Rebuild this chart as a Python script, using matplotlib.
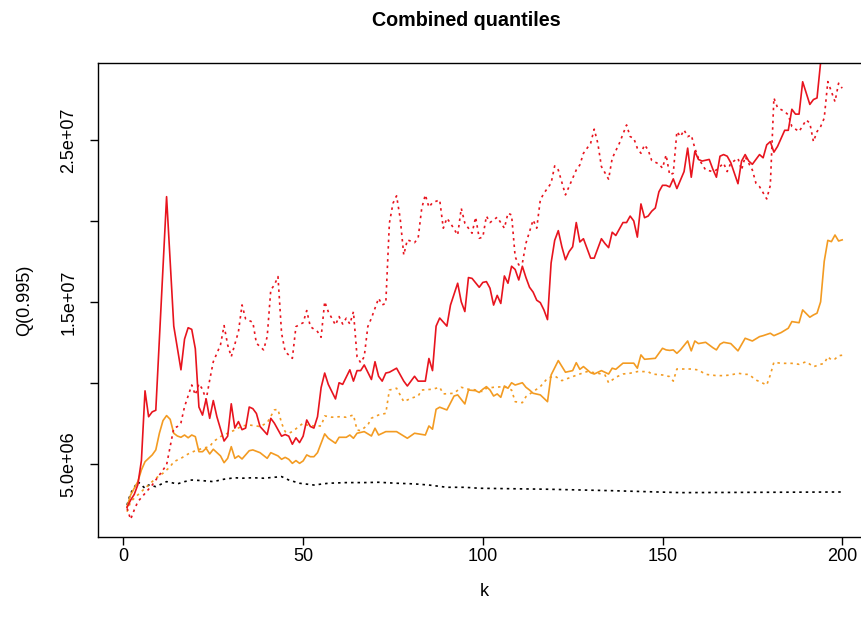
import matplotlib
matplotlib.use("Agg")
import matplotlib.pyplot as plt
from matplotlib.ticker import FixedLocator, FuncFormatter

plt.rcParams['font.family'] = ['Liberation Sans', 'DejaVu Sans']

# Q(0.995) values in units of 1e6
red_k = [1, 2, 3, 4, 5, 6, 7, 8, 9, 12, 14, 16, 17, 18, 19, 20, 21, 22, 23, 24, 25, 26, 28, 29, 30,
         31, 32, 33, 34, 35, 36, 37, 38, 40, 41, 42, 44, 45, 46, 47, 48, 49, 50, 51, 52, 53, 54, 55,
         56, 57, 59, 60, 61, 63, 64, 65, 66, 67, 69, 70, 71, 72, 73, 74, 76, 78, 79, 80, 81, 82, 84,
         85, 86, 87, 88, 90, 91, 93, 94, 95, 96, 97, 99, 100, 101, 102, 103, 104, 105, 106, 107, 108,
         109, 110, 111, 112, 113, 114, 115, 116, 117, 118, 119, 120, 121, 122, 123, 124, 125, 126,
         127, 128, 130, 131, 133, 134, 135, 136, 137, 139, 140, 141, 142, 143, 144, 145, 146, 147,
         148, 149, 150, 151, 152, 153, 154, 156, 157, 158, 159, 160, 161, 163, 164, 165, 166, 167,
         168, 169, 171, 172, 173, 174, 175, 177, 178, 179, 180, 181, 182, 184, 185, 186, 187, 188,
         189, 191, 192, 193, 194, 195, 200]
red_v = [2.3, 2.75, 3.1, 3.7, 5.2, 9.5, 7.9, 8.2, 8.3, 21.5, 13.5, 10.8, 12.7, 13.4, 13.3, 12.1, 8.5,
         8.0, 9.0, 7.8, 8.9, 7.9, 6.4, 6.7, 8.7, 7.2, 7.6, 7.1, 7.2, 8.5, 8.4, 8.1, 7.3, 6.8, 7.8,
         7.5, 6.7, 6.8, 6.7, 6.2, 6.6, 6.3, 6.7, 7.7, 7.3, 7.2, 7.9, 9.7, 10.6, 9.9, 9.0, 10.0, 9.9,
         10.8, 10.1, 10.75, 10.75, 11.1, 10.2, 11.3, 10.4, 10.1, 10.6, 10.65, 10.9, 10.1, 9.8, 10.1,
         10.4, 10.1, 10.1, 11.5, 10.75, 13.5, 14.0, 13.5, 14.8, 16.15, 15.0, 14.4, 16.5, 16.45, 15.9,
         16.2, 16.25, 15.84, 14.8, 15.4, 14.9, 16.6, 16.15, 17.2, 17.0, 16.35, 17.2, 16.5, 15.9, 15.6,
         15.1, 14.95, 14.5, 13.9, 17.4, 18.8, 19.4, 18.4, 17.6, 18.1, 18.4, 19.9, 18.7, 18.9, 17.7,
         17.7, 18.9, 18.6, 18.35, 19.3, 19.1, 19.9, 19.9, 20.3, 20.0, 19.0, 21.05, 20.2, 20.3, 20.6,
         20.8, 21.8, 22.2, 22.2, 22.1, 22.6, 22.0, 23.05, 24.5, 22.7, 24.3, 23.8, 23.7, 23.8, 23.2,
         22.7, 24.0, 24.1, 24.0, 23.6, 22.3, 23.7, 24.1, 23.7, 23.5, 24.1, 23.9, 24.7, 24.9, 24.25,
         24.6, 25.6, 25.6, 26.9, 26.6, 26.6, 28.6, 27.2, 27.5, 27.6, 29.8, 31.0, 32.0]

red_dot_k = [1, 2, 3, 4, 6, 8, 10, 12, 13, 14, 15, 16, 17, 19, 20, 21, 22, 23, 24, 25, 27, 28, 29,
             30, 32, 33, 34, 36, 37, 39, 40, 41, 42, 43, 44, 45, 47, 48, 50, 51, 52, 54, 55, 56, 57,
             59, 60, 61, 62, 63, 64, 65, 66, 67, 68, 69, 71, 72, 73, 74, 75, 76, 77, 78, 79, 81, 82,
             83, 84, 85, 86, 88, 89, 90, 91, 93, 94, 95, 97, 98, 99, 100, 101, 102, 104, 106, 107,
             108, 109, 110, 111, 112, 114, 115, 116, 117, 119, 120, 121, 123, 124, 126, 127, 128,
             130, 131, 132, 133, 135, 136, 138, 140, 141, 142, 143, 144, 145, 146, 147, 149, 150,
             151, 152, 153, 154, 155, 156, 157, 158, 159, 160, 162, 164, 165, 167, 168, 169, 171,
             172, 173, 175, 176, 177, 179, 180, 181, 182, 184, 185, 186, 188, 190, 191, 192, 193,
             194, 195, 196, 197, 198, 199, 200]
red_dot_v = [2.24, 1.56, 2.14, 2.65, 3.17, 3.68, 4.3, 4.92, 6.05, 7.19, 7.29, 7.53, 8.52, 9.86, 9.25,
             9.93, 9.6, 8.94, 10.17, 11.3, 12.34, 13.53, 12.34, 11.61, 13.16, 14.81, 13.94, 13.74,
             12.44, 12.03, 12.85, 15.74, 16.04, 16.56, 13.06, 11.92, 11.51, 13.47, 13.71, 14.46,
             13.47, 13.16, 12.81, 15.01, 14.39, 13.57, 14.09, 13.63, 13.99, 13.63, 14.39, 11.61,
             11.24, 11.61, 13.47, 13.99, 15.22, 14.81, 14.91, 19.86, 21.09, 21.55, 20.17, 17.9,
             18.83, 18.66, 18.93, 20.78, 21.61, 20.85, 21.13, 21.3, 19.55, 20.17, 19.86, 19.13,
             20.78, 19.86, 19.24, 20.23, 18.93, 19.0, 20.3, 19.9, 20.23, 19.55, 20.48, 20.37, 17.79,
             17.28, 17.38, 18.62, 20.06, 19.55, 21.3, 21.71, 22.33, 23.4, 23.15, 21.61, 22.12, 23.15,
             23.46, 24.18, 24.8, 25.67, 24.8, 23.36, 22.58, 23.87, 24.8, 25.93, 25.21, 25.11, 24.49,
             24.18, 24.7, 24.39, 23.73, 23.52, 23.26, 24.08, 22.84, 22.95, 25.52, 25.21, 25.62,
             25.21, 25.31, 24.49, 23.87, 23.15, 23.05, 23.15, 23.57, 23.05, 23.57, 23.87, 23.15,
             23.97, 23.15, 22.33, 22.12, 21.36, 22.2, 27.6, 27.0, 26.76, 26.55, 25.83, 25.52, 26.24,
             26.04, 24.9, 25.52, 25.83, 26.35, 28.61, 28.0, 27.37, 28.51, 28.2]

orange_k = [1, 2, 4, 5, 6, 8, 9, 10, 11, 12, 13, 14, 15, 16, 17, 18, 19, 20, 21, 22, 23, 24, 25, 27,
            28, 29, 30, 31, 32, 33, 35, 36, 38, 40, 41, 43, 44, 45, 46, 47, 48, 49, 50, 51, 52, 53,
            54, 56, 57, 59, 60, 62, 63, 64, 65, 67, 69, 70, 71, 73, 76, 79, 81, 84, 85, 86, 87, 88,
            90, 92, 93, 95, 96, 98, 99, 100, 101, 102, 103, 104, 105, 106, 107, 108, 109, 111, 112,
            113, 114, 116, 117, 118, 119, 121, 123, 125, 126, 127, 128, 130, 131, 133, 135, 136,
            137, 139, 142, 143, 144, 145, 148, 150, 151, 152, 153, 154, 155, 157, 158, 159, 160,
            162, 164, 165, 166, 167, 169, 171, 173, 175, 177, 178, 180, 181, 183, 185, 186, 188,
            189, 191, 192, 193, 194, 195, 196, 197, 198, 199, 200]
orange_v = [2.34, 3.07, 3.89, 4.61, 5.12, 5.54, 5.85, 6.88, 7.66, 7.97, 7.74, 6.88, 6.71, 6.63, 6.77,
            6.6, 6.77, 6.67, 5.74, 5.74, 5.95, 5.6, 5.89, 5.48, 5.06, 5.33, 6.05, 5.33, 5.48, 5.29,
            5.8, 5.85, 5.68, 5.33, 5.68, 5.48, 5.27, 5.39, 5.27, 5.02, 5.19, 5.02, 5.17, 5.54, 5.43,
            5.43, 5.68, 6.84, 6.57, 6.26, 6.63, 6.63, 6.77, 6.57, 6.88, 6.98, 6.71, 7.19, 6.77, 6.98,
            6.98, 6.57, 6.88, 6.77, 7.33, 7.13, 8.36, 8.49, 8.32, 9.18, 9.25, 8.69, 9.55, 9.51, 9.4,
            9.6, 9.76, 9.55, 9.18, 9.31, 9.1, 9.8, 9.66, 10.0, 9.86, 10.0, 9.72, 9.55, 9.35, 9.25,
            9.04, 8.83, 10.48, 11.37, 10.65, 10.75, 11.24, 10.83, 11.0, 10.62, 10.54, 10.75, 10.54,
            10.9, 10.83, 11.21, 11.21, 10.9, 11.72, 11.45, 11.51, 12.13, 12.03, 12.0, 12.03, 11.82,
            12.03, 12.58, 11.97, 12.58, 12.42, 12.5, 12.17, 12.03, 12.38, 12.5, 12.42, 11.97, 12.75,
            12.58, 12.85, 12.91, 13.06, 12.91, 13.1, 13.37, 13.78, 13.71, 14.5, 14.05, 14.19, 14.3,
            15.0, 17.5, 18.8, 18.72, 19.13, 18.76, 18.83]

orange_dot_k = [1, 2, 4, 6, 7, 9, 11, 13, 14, 16, 18, 20, 22, 24, 25, 27, 29, 31, 33, 35, 37, 38, 40,
                42, 43, 44, 45, 46, 47, 49, 50, 51, 53, 55, 56, 58, 60, 62, 64, 65, 66, 68, 69, 71,
                73, 74, 76, 78, 80, 82, 83, 86, 88, 89, 92, 94, 96, 97, 100, 101, 103, 106, 108, 109,
                111, 112, 114, 116, 118, 120, 122, 125, 127, 129, 132, 134, 135, 137, 139, 141, 143,
                146, 147, 150, 152, 153, 154, 156, 158, 160, 162, 165, 167, 169, 171, 173, 174, 176,
                177, 179, 180, 181, 183, 186, 188, 190, 192, 194, 195, 196, 197, 198, 199, 200]
orange_dot_v = [2.03, 2.65, 3.07, 3.48, 3.68, 4.1, 4.41, 4.81, 5.12, 5.33, 5.6, 5.8, 5.95, 6.05, 6.36,
                6.67, 6.88, 7.08, 7.33, 7.39, 7.33, 7.29, 7.53, 8.32, 8.36, 7.5, 6.98, 6.88, 6.98,
                7.33, 7.5, 7.39, 7.33, 7.33, 7.95, 7.87, 7.9, 7.87, 8.01, 7.08, 7.04, 7.39, 7.81,
                8.01, 8.11, 9.55, 9.66, 8.83, 9.04, 9.18, 9.55, 9.6, 9.72, 9.31, 9.35, 9.72, 9.6, 9.6,
                9.45, 9.66, 9.72, 9.76, 9.55, 8.83, 8.77, 9.14, 9.45, 9.76, 10.28, 10.42, 10.13,
                10.38, 10.54, 10.69, 10.59, 10.48, 10.0, 10.34, 10.54, 10.59, 10.69, 10.69, 10.54,
                10.48, 10.38, 10.1, 10.85, 10.85, 10.85, 10.79, 10.52, 10.44, 10.44, 10.48, 10.59,
                10.52, 10.52, 10.17, 10.07, 9.86, 10.48, 11.27, 11.2, 11.2, 11.14, 11.3, 10.99, 11.14,
                11.2, 11.61, 11.41, 11.47, 11.67, 11.7]

black_k = [1, 2, 4, 5, 6, 7, 9, 12, 15, 17, 19, 22, 25, 28, 31, 33, 36, 39, 42, 44, 46, 49, 53, 57,
           62, 67, 71, 76, 81, 85, 90, 95, 99, 118, 136, 155, 200]
black_v = [2.45, 3.17, 3.89, 3.68, 3.48, 3.68, 3.58, 3.89, 3.75, 3.89, 3.99, 3.95, 3.89, 4.04, 4.13,
           4.1, 4.13, 4.1, 4.16, 4.2, 3.99, 3.79, 3.68, 3.79, 3.83, 3.83, 3.85, 3.79, 3.75, 3.68,
           3.54, 3.54, 3.48, 3.42, 3.33, 3.21, 3.25]

RED = '#E8141E'
ORANGE = '#F39B22'
dotted = (0, (1.5, 2.4))
LW = 1.2


def scaled(v):
    return [x * 1e6 for x in v]


fig = plt.figure(figsize=(8.62, 6.26), dpi=100)
ax = fig.add_axes([0.1142, 0.1417, 0.896, 0.7582])

ax.plot(black_k, scaled(black_v), color='black', lw=LW, linestyle=dotted)
ax.plot(orange_k, scaled(orange_v), color=ORANGE, lw=LW)
ax.plot(orange_dot_k, scaled(orange_dot_v), color=ORANGE, lw=LW, linestyle=dotted)
ax.plot(red_k, scaled(red_v), color=RED, lw=LW)
ax.plot(red_dot_k, scaled(red_dot_v), color=RED, lw=LW, linestyle=dotted)

ax.set_xlim(-6.96, 207.96)
ax.set_ylim(0.45e6, 2.978e7)

ax.set_xticks([0, 50, 100, 150, 200])
ax.yaxis.set_major_locator(FixedLocator([5e6, 1e7, 1.5e7, 2e7, 2.5e7]))
ylabels = {5e6: '5.0e+06', 1.5e7: '1.5e+07', 2.5e7: '2.5e+07'}
ax.yaxis.set_major_formatter(FuncFormatter(lambda v, p: ylabels.get(v, '')))
for t in ax.get_yticklabels():
    t.set_rotation(90)
    t.set_va('center')

ax.tick_params(direction='out', length=6, width=1.0, labelsize=13, colors='black')
ax.tick_params(axis='x', pad=2)
ax.tick_params(axis='y', pad=9)
for s in ax.spines.values():
    s.set_linewidth(1.0)

ax.set_xlabel('k', fontsize=13, labelpad=13)
ax.set_ylabel('Q(0.995)', fontsize=13, labelpad=20)
fig.text(0.541, 0.967, 'Combined quantiles', fontsize=14.2, fontweight='bold',
         ha='center', va='center')

fig.savefig('out.png', dpi=100)
